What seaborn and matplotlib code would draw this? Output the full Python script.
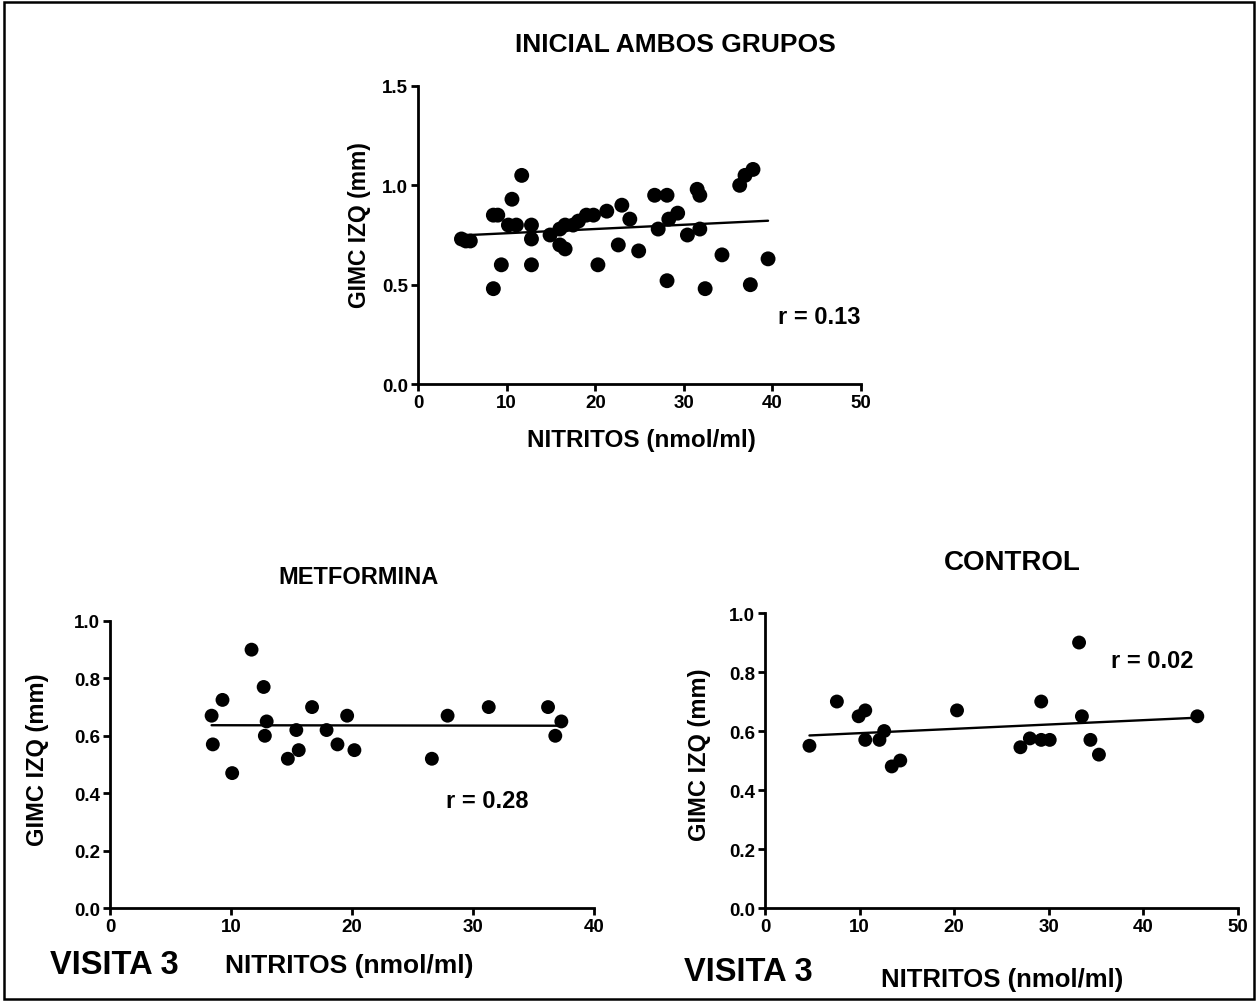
import matplotlib
matplotlib.use("Agg")
import matplotlib.pyplot as plt
import seaborn as sns
import pandas as pd
from matplotlib.patches import Rectangle

# ---------------- data ----------------
top_x = [4.9, 5.4, 5.9, 8.5, 9.0, 10.6, 11.7, 8.5, 9.4, 12.8, 12.8, 10.2, 11.1, 12.8, 14.9,
         16.0, 16.6, 17.5, 18.1, 19.0, 19.8, 21.3, 16.0, 16.6, 20.3, 23.0, 23.9, 22.6, 24.9,
         26.7, 28.1, 27.1, 28.3, 29.3, 28.1, 30.4, 31.5, 31.8, 31.8, 32.4, 34.3, 36.3, 36.9,
         37.8, 37.5, 39.5]
top_y = [0.73, 0.72, 0.72, 0.85, 0.85, 0.93, 1.05, 0.48, 0.60, 0.60, 0.73, 0.80, 0.80, 0.80, 0.75,
         0.78, 0.80, 0.80, 0.82, 0.85, 0.85, 0.87, 0.70, 0.68, 0.60, 0.90, 0.83, 0.70, 0.67,
         0.95, 0.95, 0.78, 0.83, 0.86, 0.52, 0.75, 0.98, 0.95, 0.78, 0.48, 0.65, 1.00, 1.05,
         1.08, 0.50, 0.63]

met_x = [8.4, 8.5, 9.3, 10.1, 11.7, 12.7, 12.95, 12.8, 14.7, 15.4, 15.6, 16.7, 17.9, 18.8,
         19.6, 20.2, 26.6, 27.9, 31.3, 36.2, 36.8, 37.3]
met_y = [0.67, 0.57, 0.725, 0.47, 0.90, 0.77, 0.65, 0.60, 0.52, 0.62, 0.55, 0.70, 0.62, 0.57,
         0.67, 0.55, 0.52, 0.67, 0.70, 0.70, 0.60, 0.65]

ctl_x = [4.7, 7.6, 9.9, 10.6, 10.6, 12.1, 12.6, 13.4, 14.3, 20.3, 27.0, 28.0, 29.2, 29.2,
         30.1, 33.2, 33.5, 34.4, 35.3, 45.7]
ctl_y = [0.55, 0.70, 0.65, 0.67, 0.57, 0.57, 0.60, 0.48, 0.50, 0.67, 0.545, 0.575, 0.70, 0.57,
         0.57, 0.90, 0.65, 0.57, 0.52, 0.65]

titles = ["INICIAL AMBOS GRUPOS", "METFORMINA", "CONTROL"]
r_labels = ["r = 0.13", "r = 0.28", "r = 0.02"]
xlabel = "NITRITOS (nmol/ml)"
ylabel = "GIMC IZQ (mm)"
visit_label = "VISITA 3"

top_xticks = [0, 10, 20, 30, 40, 50]
top_yticks = [0.0, 0.5, 1.0, 1.5]
met_xticks = [0, 10, 20, 30, 40]
ctl_xticks = [0, 10, 20, 30, 40, 50]
low_yticks = [0.0, 0.2, 0.4, 0.6, 0.8, 1.0]

# ---------------- style ----------------
sns.set_style("ticks")
plt.rcParams['font.family'] = ['Liberation Sans', 'DejaVu Sans']
plt.rcParams['font.weight'] = 'bold'
plt.rcParams['text.color'] = 'black'
plt.rcParams['xtick.color'] = 'black'
plt.rcParams['ytick.color'] = 'black'
plt.rcParams['xtick.labelcolor'] = 'black'
plt.rcParams['ytick.labelcolor'] = 'black'

fig = plt.figure(figsize=(12.58, 10.03), dpi=100)
fig.patch.set_facecolor("white")
fig.patches.append(Rectangle((0.003, 0.003), 0.994, 0.994, transform=fig.transFigure,
                             fill=False, edgecolor="black", linewidth=1.8))

ax_top = fig.add_axes([0.3323, 0.6161, 0.3522, 0.2972])
ax_met = fig.add_axes([0.0874, 0.0937, 0.3848, 0.2862])
ax_ctl = fig.add_axes([0.6081, 0.0937, 0.3760, 0.2941])

panels = [
    (ax_top, top_x, top_y, top_xticks, top_yticks, (0, 50), (0, 1.5), 115),
    (ax_met, met_x, met_y, met_xticks, low_yticks, (0, 40), (0, 1.0), 100),
    (ax_ctl, ctl_x, ctl_y, ctl_xticks, low_yticks, (0, 50), (0, 1.0), 100),
]

for ax, xs, ys, xt, yt, xl, yl, ms in panels:
    df = pd.DataFrame({"x": xs, "y": ys})
    sns.regplot(data=df, x="x", y="y", ax=ax, ci=None, truncate=True,
                scatter_kws=dict(s=ms, color="black", edgecolor="none", alpha=1, zorder=3,
                                 clip_on=False),
                line_kws=dict(color="black", linewidth=1.7, zorder=2))
    ax.set_xlim(*xl)
    ax.set_ylim(*yl)
    ax.set_xticks(xt)
    ax.set_xticklabels([str(v) for v in xt])
    ax.set_yticks(yt)
    ax.set_yticklabels(["{:.1f}".format(v) for v in yt])
    ax.set_xlabel("")
    ax.set_ylabel("")
    for side in ["top", "right"]:
        ax.spines[side].set_visible(False)
    for side in ["left", "bottom"]:
        ax.spines[side].set_linewidth(2.0)
        ax.spines[side].set_color("black")
    ax.tick_params(axis="both", direction="out", length=5, width=2.0, color="black",
                   labelsize=13.5, pad=2, labelcolor="black")
    for lab in ax.get_xticklabels() + ax.get_yticklabels():
        lab.set_fontweight("bold")
    ax.set_facecolor("white")

# titles
fig.text(0.5366, 0.955, titles[0], ha="center", va="center", fontsize=19, fontweight="bold")
fig.text(0.2846, 0.4247, titles[1], ha="center", va="center", fontsize=17, fontweight="bold")
fig.text(0.8045, 0.4387, titles[2], ha="center", va="center", fontsize=20, fontweight="bold")

# r annotations
fig.text(0.651, 0.683, r_labels[0], ha="center", va="center", fontsize=17, fontweight="bold")
fig.text(0.387, 0.2004, r_labels[1], ha="center", va="center", fontsize=17, fontweight="bold")
fig.text(0.9157, 0.340, r_labels[2], ha="center", va="center", fontsize=17, fontweight="bold")

# x labels
fig.text(0.5095, 0.5613, xlabel, ha="center", va="center", fontsize=17.5, fontweight="bold")
fig.text(0.278, 0.0369, xlabel, ha="center", va="center", fontsize=19, fontweight="bold")
fig.text(0.7965, 0.0229, xlabel, ha="center", va="center", fontsize=18.5, fontweight="bold")

# y labels
fig.text(0.286, 0.7757, ylabel, ha="center", va="center", rotation=90, fontsize=16.5,
         fontweight="bold")
fig.text(0.0302, 0.2423, ylabel, ha="center", va="center", rotation=90, fontsize=17,
         fontweight="bold")
fig.text(0.5564, 0.2473, ylabel, ha="center", va="center", rotation=90, fontsize=17,
         fontweight="bold")

# visit labels
fig.text(0.0906, 0.0369, visit_label, ha="center", va="center", fontsize=23.5, fontweight="bold")
fig.text(0.5946, 0.0309, visit_label, ha="center", va="center", fontsize=23.5, fontweight="bold")

fig.savefig("out.png", dpi=100, facecolor="white")
